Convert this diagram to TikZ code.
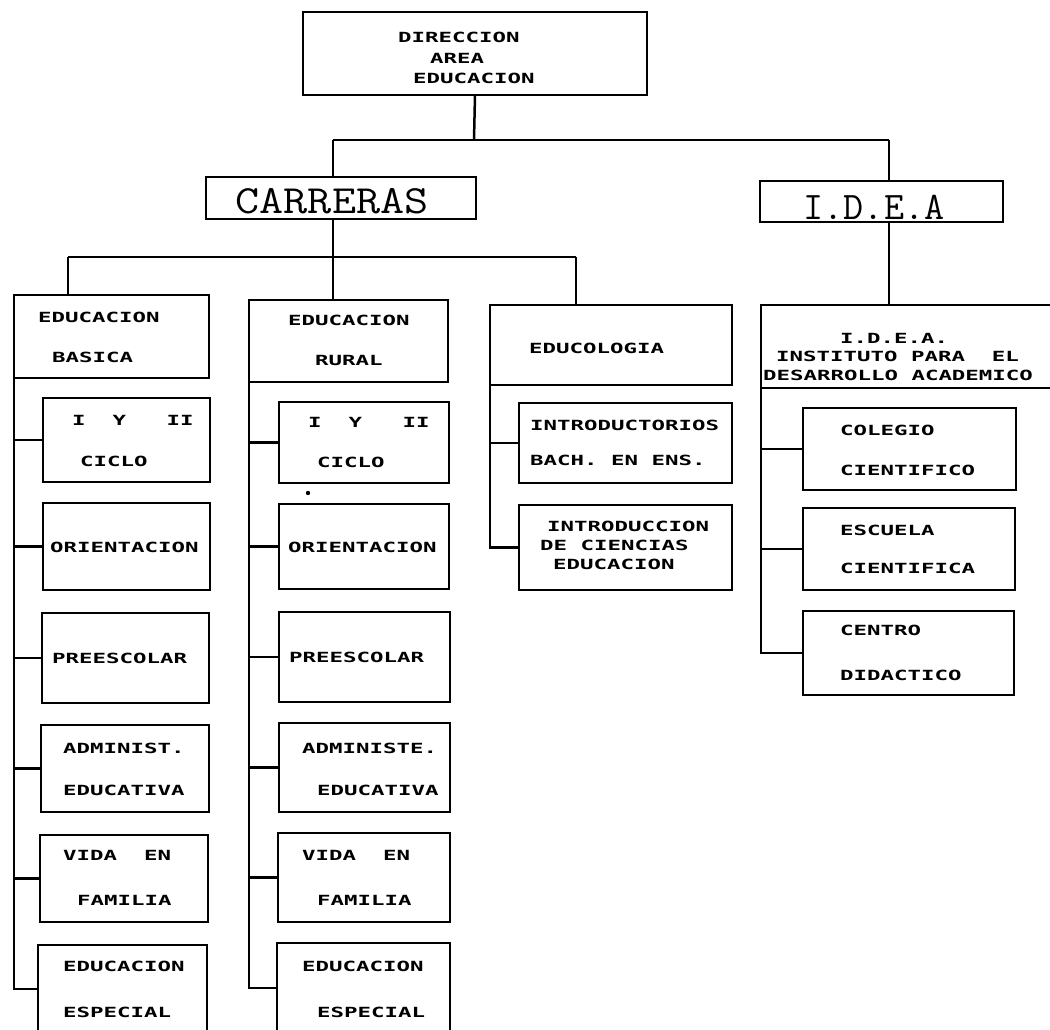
\documentclass[tikz,border=0pt]{standalone}
\usepackage{fontspec}
\usepackage{graphicx}
\newfontfamily\dotfont[FakeStretch=1.6]{DejaVu Sans Mono}
\begin{document}
\begin{tikzpicture}[x=1pt,y=-1pt,
  ln/.style={line width=2.5pt},
  bx/.style={draw, line width=2.5pt, anchor=north west, inner sep=0pt, outer sep=0pt},
  tx/.style={font=\dotfont\bfseries\fontsize{14}{14}\selectfont, anchor=west, inner sep=0pt},
  big/.style={font=\ttfamily\fontsize{40}{40}\selectfont, inner sep=0pt}]
\fill[white] (0,0) rectangle (1050,1030);
\useasboundingbox (0,0) rectangle (1050,1030);
\clip (0,0) rectangle (1050,1030);

% ---- boxes ----
\node[bx, minimum width=344, minimum height=83] (dir) at (303,12) {};
\node[bx, minimum width=270, minimum height=42] (carr) at (206,177) {};
\node[bx, minimum width=243, minimum height=41] (idea) at (760,181) {};
\node[bx, minimum width=195, minimum height=83] (basica) at (14,295) {};
\node[bx, minimum width=199, minimum height=82] (rural) at (249,300) {};
\node[bx, minimum width=242, minimum height=80] (educ) at (490,305) {};
\node[bx, minimum width=300, minimum height=83] (ideasub) at (761,305) {};

\node[bx, minimum width=167, minimum height=84] (L1) at (43,398) {};
\node[bx, minimum width=167, minimum height=87] (L2) at (43,503) {};
\node[bx, minimum width=167, minimum height=90] (L3) at (42,613) {};
\node[bx, minimum width=168, minimum height=87] (L4) at (41,725) {};
\node[bx, minimum width=168, minimum height=87] (L5) at (40,835) {};
\node[bx, minimum width=169, minimum height=88] (L6) at (38,945) {};

\node[bx, minimum width=170, minimum height=81] (R1) at (279,402) {};
\node[bx, minimum width=170, minimum height=85] (R2) at (279,504) {};
\node[bx, minimum width=171, minimum height=90] (R3) at (279,612) {};
\node[bx, minimum width=171, minimum height=89] (R4) at (279,723) {};
\node[bx, minimum width=172, minimum height=89] (R5) at (278,833) {};
\node[bx, minimum width=173, minimum height=90] (R6) at (277,943) {};

\node[bx, minimum width=213, minimum height=80] (E1) at (519,403) {};
\node[bx, minimum width=213, minimum height=85] (E2) at (519,505) {};

\node[bx, minimum width=213, minimum height=82] (I1) at (803,408) {};
\node[bx, minimum width=212, minimum height=82] (I2) at (803,508) {};
\node[bx, minimum width=211, minimum height=84] (I3) at (803,611) {};

% ---- texts ----
\node[tx] (t1) at (398,37) {DIRECCION};
\node[tx] (t2) at (430,58) {AREA};
\node[tx] (t3) at (413,78) {EDUCACION};
\node[big] (tcarr) at (332,201) {\scalebox{1.17}[1]{CARRERAS}};
\node[big, font=\ttfamily\fontsize{39}{39}\selectfont] (tidea) at (874,207) {I.D.E.A};

\node[tx] (tb1) at (38,317) {EDUCACION};
\node[tx] (tb2) at (52,357) {BASICA};
\node[tx] (tr1) at (288,320) {EDUCACION};
\node[tx] (tr2) at (315,360) {RURAL};
\node[tx] (te1) at (529,348) {EDUCOLOGIA};
\node[tx] (ti1) at (840,338) {I.D.E.A.};
\node[tx] (ti2) at (776,356) {INSTITUTO~PARA~~EL};
\node[tx] (ti3) at (763,375) {DESARROLLO~ACADEMICO};

\node[tx] (l1a) at (72,420) {I~~Y~~~II};
\node[tx] (l1b) at (80,461) {CICLO};
\node[tx] (l2a) at (50,547) {ORIENTACION};
\node[tx] (l3a) at (52,658) {PREESCOLAR};
\node[tx] (l4a) at (63,748) {ADMINIST.};
\node[tx] (l4b) at (63,790) {EDUCATIVA};
\node[tx] (l5a) at (63,855) {VIDA~~EN};
\node[tx] (l5b) at (77,900) {FAMILIA};
\node[tx] (l6a) at (63,966) {EDUCACION};
\node[tx] (l6b) at (63,1012) {ESPECIAL};

\node[tx] (r1a) at (308,422) {I~~Y~~~II};
\node[tx] (r1b) at (317,462) {CICLO};
\node[tx] (r2a) at (288,547) {ORIENTACION};
\node[tx] (r3a) at (289,657) {PREESCOLAR};
\node[tx] (r4a) at (302,748) {ADMINISTE.};
\node[tx] (r4b) at (317,790) {EDUCATIVA};
\node[tx] (r5a) at (302,855) {VIDA~~EN};
\node[tx] (r5b) at (317,900) {FAMILIA};
\node[tx] (r6a) at (302,966) {EDUCACION};
\node[tx] (r6b) at (317,1012) {ESPECIAL};

\node[tx] (e1a) at (530,425) {INTRODUCTORIOS};
\node[tx] (e1b) at (530,460) {BACH.~EN~ENS.};
\node[tx] (e2a) at (547,526) {INTRODUCCION};
\node[tx] (e2b) at (540,545) {DE~CIENCIAS};
\node[tx] (e2c) at (553,564) {EDUCACION};

\node[tx] (i1a) at (840,430) {COLEGIO};
\node[tx] (i1b) at (840,470) {CIENTIFICO};
\node[tx] (i2a) at (840,530) {ESCUELA};
\node[tx] (i2b) at (840,568) {CIENTIFICA};
\node[tx] (i3a) at (840,630) {CENTRO};
\node[tx] (i3b) at (840,675) {DIDACTICO};

% ---- connectors ----
\coordinate (tj) at (474,140);
\coordinate (tl) at (333,140);
\coordinate (tr) at (889,140);
\draw[ln] (dir.south) -- (tj);
\draw[ln] (tl) -- (tr);
\draw[ln] (tl) -- (tl |- carr.north);
\draw[ln] (tr) -- (tr |- idea.north);
\draw[ln] (tr |- idea.south) -- (tr |- ideasub.north);

\coordinate (ml) at (68,257);
\coordinate (mc) at (333,257);
\coordinate (mr) at (576,257);
\draw[ln] (ml) -- (mr);
\draw[ln] (ml) -- (ml |- basica.north);
\draw[ln] (mc |- carr.south) -- (mc |- rural.north);
\draw[ln] (mr) -- (mr |- educ.north);

\draw[ln] (basica.south west) |- (L6.west);
\foreach \c in {L1,L2,L3,L4,L5} \draw[ln] (basica.south west |- \c.west) -- (\c.west);
\draw[ln] (rural.south west) |- (R6.west);
\foreach \c in {R1,R2,R3,R4,R5} \draw[ln] (rural.south west |- \c.west) -- (\c.west);
\draw[ln] (educ.south west) |- (E2.west);
\draw[ln] (educ.south west |- E1.west) -- (E1.west);
\draw[ln] (ideasub.south west) |- (I3.west);
\foreach \c in {I1,I2} \draw[ln] (ideasub.south west |- \c.west) -- (\c.west);

\fill (308,493) circle (2.2);
\end{tikzpicture}
\end{document}
